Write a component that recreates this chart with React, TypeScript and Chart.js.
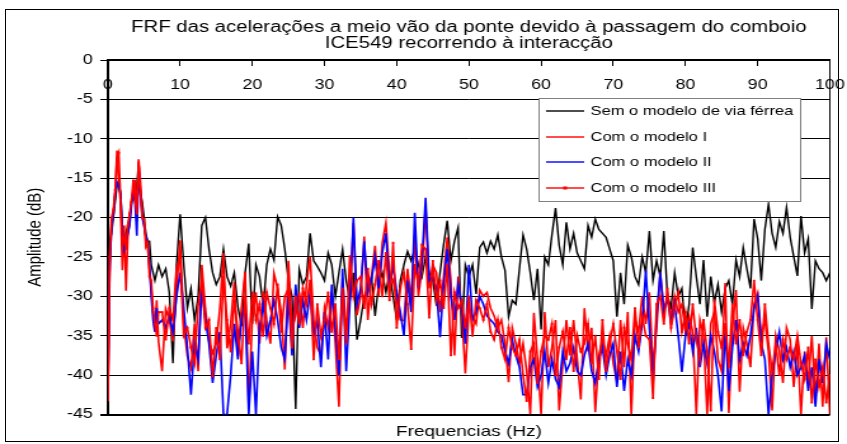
import { useEffect, useRef } from 'react';
import { Chart, registerables } from 'chart.js';

Chart.register(...registerables);

// ---- data ----
const FREQ = [
  0, 0.25, 0.5, 0.75, 1, 1.25, 1.5, 1.75, 2, 2.25,
  2.5, 2.75, 3, 3.25, 3.5, 3.75, 4, 4.25, 4.5, 4.75,
  5, 5.25, 5.5, 5.75, 6, 6.25, 6.5, 6.75, 7,
  7.5, 8, 8.5, 9, 9.5, 10, 10.5, 11, 11.5, 12,
  12.5, 13, 13.5, 14, 14.5, 15, 15.5, 16, 16.5, 17,
  17.5, 18, 18.5, 19, 19.5, 20, 20.5, 21, 21.5, 22,
  22.5, 23, 23.5, 24, 24.5, 25, 25.5, 26, 26.5, 27,
  27.5, 28, 28.5, 29, 29.5, 30, 30.5, 31, 31.5, 32,
  32.5, 33, 33.5, 34, 34.5, 35, 35.5, 36, 36.5, 37,
  37.5, 38, 38.5, 39, 39.5, 40, 40.5, 41, 41.5, 42,
  42.5, 43, 43.5, 44, 44.5, 45, 45.5, 46, 46.5, 47,
  47.5, 48, 48.5, 49, 49.5, 50, 50.5, 51, 51.5, 52,
  52.5, 53, 53.5, 54, 54.5, 55, 55.5, 56, 56.5, 57,
  57.5, 58, 58.5, 59, 59.5, 60, 60.5, 61, 61.5, 62,
  62.5, 63, 63.5, 64, 64.5, 65, 65.5, 66, 66.5, 67,
  67.5, 68, 68.5, 69, 69.5, 70, 70.5, 71, 71.5, 72,
  72.5, 73, 73.5, 74, 74.5, 75, 75.5, 76, 76.5, 77,
  77.5, 78, 78.5, 79, 79.5, 80, 80.5, 81, 81.5, 82,
  82.5, 83, 83.5, 84, 84.5, 85, 85.5, 86, 86.5, 87,
  87.5, 88, 88.5, 89, 89.5, 90, 90.5, 91, 91.5, 92,
  92.5, 93, 93.5, 94, 94.5, 95, 95.5, 96, 96.5, 97,
  97.5, 98, 98.5, 99, 99.5, 100,
];

const SEM_VIA = [
  -25, -23, -22, -20, -18, -16, -15.5, -17, -21, -23,
  -22, -21, -20, -18, -17, -17, -16, -13, -17, -18,
  -20, -22, -23, -23, -26, -27, -28, -27, -26,
  -27.5, -26.5, -29.5, -38.5, -26, -19.6, -26, -31.5, -29, -33,
  -30, -21, -20, -24, -27, -28.5, -27.5, -24, -27.5, -28.7,
  -27, -31.3, -33.8, -27, -23.3, -33.5, -26, -27.5, -31.3, -26,
  -24, -25.4, -19.9, -21, -24, -28, -30, -44.3, -26.6, -28.5,
  -27.5, -22, -25.5, -26.2, -27, -28, -24.5, -26, -30, -27,
  -24, -28, -30.5, -27, -35.5, -33, -30, -29, -27.5, -32.5,
  -28.5, -27, -29.5, -27, -30, -33, -28, -26, -24.3, -25.5,
  -24, -26, -27.5, -25, -27, -28, -31.2, -27, -23.4, -20.4,
  -25.5, -23, -21.3, -35.3, -26, -27.5, -26, -29.7, -23.8, -23.1,
  -24.5, -23, -24, -22.2, -25, -26.7, -32.6, -30.5, -31, -26.5,
  -22.2, -24, -27, -30.5, -26.5, -34.2, -25, -26, -22.2, -18.8,
  -23.5, -26, -20.6, -24, -22, -24.5, -25.5, -26.5, -21, -22.5,
  -20.2, -21.5, -22, -22.5, -24, -25.5, -32.6, -27, -31, -23.5,
  -25, -27.5, -28.5, -25, -27, -21.7, -28, -25.5, -27.5, -21.7,
  -30, -31.4, -27, -30, -29, -34.7, -31, -23.8, -27.5, -31,
  -25.4, -32.6, -27.5, -30.8, -28.5, -32, -29, -28, -31, -25.4,
  -27.5, -23.8, -26.5, -29, -20.2, -22.7, -28, -21.5, -18.3, -22,
  -23.8, -20.5, -22, -18.7, -22.5, -25, -27.4, -19.8, -24.5, -22.7,
  -31.6, -25.5, -26.5, -27, -28, -27,
];

const MODELO_I = [
  -43, -27, -20.5, -19.5, -17, -11.5, -15.5, -18, -26.7, -21,
  -29.3, -22.5, -20.5, -17.8, -16.5, -15.2, -20.5, -12.6, -15.5, -19.5,
  -21, -22.5, -23.5, -26.5, -29, -32, -34.4, -30.5, -35.7,
  -39.5, -31.6, -33, -35.7, -29.3, -22.9, -33.6, -37.6, -39.1, -33.5,
  -39.5, -26, -31.6, -35.7, -37.2, -36, -31.6, -24.5, -36.6, -33.5,
  -28.2, -37.5, -31.5, -26.9, -44, -32.6, -29.5, -36, -29.4, -33,
  -36, -27.1, -29, -32, -39.3, -25.5, -34, -32.5, -29.5, -34,
  -28.5, -25, -33, -36.5, -37.5, -31.5, -34, -29.5, -36, -44,
  -27.7, -34.4, -29.9, -20.7, -32.4, -30, -22.4, -33, -27.5, -23.6,
  -30, -23.2, -20.7, -27, -28, -30.5, -33, -33.1, -26.5, -30.5,
  -22.4, -30, -26.5, -18.6, -29, -26, -27, -32, -27.5, -22.5,
  -28, -37.5, -27.5, -32, -39.8, -31.5, -32.5, -33.5, -29.2, -30,
  -29.5, -31.5, -32.5, -34, -33, -36, -40.9, -34, -36, -38.5,
  -36, -39.5, -45, -32.1, -38, -45, -32, -39, -36.5, -33,
  -44.5, -38.5, -33, -37.5, -33, -38, -43.1, -31.5, -37, -34,
  -44.7, -37.5, -35.5, -37.5, -35, -38.5, -40.9, -33, -39, -32,
  -45, -33, -34.5, -30, -33.5, -29.5, -39, -34, -27, -31.5,
  -30.5, -32.5, -30, -32, -31, -34.5, -32.5, -34.5, -45, -33,
  -35, -45, -33.5, -32, -38, -39.5, -28.3, -44.8, -34, -29.2,
  -42.1, -34, -36, -39, -31, -29.6, -35, -33, -37, -44.5,
  -35, -37, -41, -34, -35.5, -41.5, -36, -45, -37, -41,
  -35, -43, -36, -44, -35.2, -45,
];

const MODELO_II = [
  -43, -26, -21, -19.5, -17, -15.5, -16, -17, -22, -24,
  -23, -22, -21, -18.5, -17, -18, -22.3, -14, -17, -20,
  -21, -22.5, -23, -26, -30, -33, -34.5, -31.5, -33.5,
  -33, -34, -32.5, -34.5, -30, -27, -31.5, -36.5, -42.5, -36,
  -38, -29, -33, -36, -41, -37.5, -34.5, -45, -45, -40,
  -33.5, -38, -33, -31, -45, -37, -45, -34, -31, -35,
  -33, -30.5, -33, -36.5, -38, -30, -37.5, -28.5, -34, -30.5,
  -33, -29.5, -35, -33, -39, -32, -38, -28.5, -34, -40,
  -26.5, -39.5, -31, -20, -31, -29, -23, -29.5, -28, -25,
  -29, -24.5, -22, -29, -26, -29.5, -32, -35, -28, -32,
  -19.4, -29, -25.5, -17.5, -28, -27.5, -29, -35.2, -28.5, -24,
  -30, -33, -28.5, -31, -36, -26, -33, -32, -30, -31,
  -32.5, -33, -33.5, -34.5, -35, -37, -38.5, -35.5, -37.5, -39,
  -42.5, -42.5, -39, -38, -41.5, -40, -37, -41, -38, -40.5,
  -41.5, -37, -39.5, -38.5, -36.5, -39.5, -40, -37.5, -36, -39.5,
  -41, -38, -36.5, -40, -37.5, -36, -41.5, -37, -42, -38,
  -40, -35, -37, -33.5, -26.7, -34, -41, -32.5, -27, -32,
  -30, -33.5, -31, -35, -39.6, -35, -33.5, -37, -34, -39,
  -36, -38.5, -35, -37, -40, -44.6, -34, -42, -36.5, -33,
  -38, -36, -37.5, -35, -31.5, -30, -36, -38, -45, -40,
  -37, -34.5, -38, -36.5, -39, -37, -40, -39, -37.5, -42,
  -39, -44, -38, -41, -36, -38,
];

const MODELO_III = [
  -43.2, -25, -20, -19, -16.5, -12.5, -11.8, -17.8, -23.5, -22.5,
  -24, -21, -19.5, -18, -15.3, -17.8, -19.5, -13, -16.8, -20,
  -20.2, -23.7, -23.2, -27.5, -28, -31.5, -33.5, -35, -32,
  -32, -35.5, -31.5, -33, -26.3, -25.5, -35, -34, -36.5, -38.5,
  -31, -28, -34, -33, -40.2, -34, -38, -27.5, -33, -37,
  -30.5, -34.5, -38.5, -30, -36, -29.5, -33, -31, -35, -29.5,
  -31.5, -33.5, -28.5, -34.5, -30, -29, -36.5, -30, -33.5, -29,
  -31, -28, -38, -31, -35, -33, -29.5, -34.5, -31, -38,
  -29, -36, -24.9, -30, -28, -27.5, -31.5, -26.5, -31, -28.5,
  -25.5, -30, -24.5, -30.5, -23.2, -34, -29, -27, -31, -36.7,
  -26, -28.5, -23.5, -24, -32.7, -25.5, -30.5, -28, -31.5, -26,
  -37.5, -29.5, -31.5, -30.5, -34, -30, -35, -30.5, -31.5, -33,
  -31, -34.5, -35.5, -33, -36.5, -38, -34, -36.5, -37.5, -35.5,
  -40, -43.3, -37, -36, -41, -37, -35, -35.5, -33.5, -40,
  -36.5, -34.5, -38, -34, -39.5, -35, -37, -36, -33.5, -38.5,
  -35, -40.5, -33, -39.5, -36, -33.5, -37, -40.5, -34, -36,
  -38, -31.5, -36.5, -32.5, -35, -35.5, -42.9, -31, -30, -33.5,
  -29, -34, -31.5, -29.5, -34.5, -32, -36, -31, -35.5, -38,
  -33, -37, -44.5, -30.5, -34.5, -36.5, -33.5, -39, -31, -36,
  -33, -37.5, -34.5, -33, -28, -33, -37.5, -31, -36, -39.5,
  -36, -40, -35.5, -38, -36.5, -38, -35, -38.5, -40.5, -36.5,
  -43.5, -38, -41.5, -39, -43.5, -40,
];

const SERIES_LABELS = [
  'Sem o modelo de via férrea',
  'Com o modelo I',
  'Com o modelo II',
  'Com o modelo III',
];
const SERIES_COLORS = ['#000000', '#FF0000', '#0000FF', '#FF0000'];
const TITLE_LINES = [
  'FRF das acelerações a meio vão da ponte devido à passagem do comboio',
  'ICE549 recorrendo à interacção',
];
const X_TITLE = 'Frequencias (Hz)';
const Y_TITLE = 'Amplitude (dB)';
const X_MIN = 0;
const X_MAX = 100;
const X_STEP = 10;
const Y_MIN = -45;
const Y_MAX = 0;
const Y_STEP = 5;

// ---- layout ----
const FONT = "'Liberation Sans', Arial, Helvetica, sans-serif";
const BASE_W = 667;
const H = 444;
const STRETCH = 847 / BASE_W;

const boxLegend = {
  id: 'boxLegend',
  afterDatasetsDraw(chart: any) {
    const { ctx, chartArea } = chart;
    const w = chartArea.right - chartArea.left;
    const x0 = Math.round(chartArea.left + w * 0.5955) + 0.5;
    const y0 = 98.5;
    const bw = 206;
    const bh = 103;
    ctx.save();
    ctx.fillStyle = '#ffffff';
    ctx.fillRect(x0, y0, bw, bh);
    ctx.strokeStyle = '#808080';
    ctx.lineWidth = 1;
    ctx.strokeRect(x0, y0, bw, bh);
    ctx.font = `13px ${FONT}`;
    ctx.textBaseline = 'middle';
    ctx.textAlign = 'left';
    chart.data.datasets.forEach((ds: any, i: number) => {
      const y = Math.round(y0 + 12.5 + i * 25.7);
      ctx.strokeStyle = ds.borderColor;
      ctx.lineWidth = 1.4;
      ctx.beginPath();
      ctx.moveTo(x0 + 5.5, y);
      ctx.lineTo(x0 + 35.5, y);
      ctx.stroke();
      if (ds.pointRadius > 0) {
        ctx.fillStyle = ds.borderColor;
        ctx.fillRect(x0 + 19, y - 1.5, 3, 3);
      }
      ctx.fillStyle = '#000000';
      ctx.fillText(ds.label, x0 + 40.5, y);
    });
    ctx.restore();
  },
};

export default function App() {
  const canvasRef = useRef<HTMLCanvasElement | null>(null);

  useEffect(() => {
    if (!canvasRef.current) return;
    const series = [SEM_VIA, MODELO_I, MODELO_II, MODELO_III];
    const datasets = series.map((vals, i) => ({
      label: SERIES_LABELS[i],
      data: vals.map((v, k) => ({ x: FREQ[k], y: v })),
      borderColor: SERIES_COLORS[i],
      backgroundColor: SERIES_COLORS[i],
      borderWidth: i === 0 ? 1.4 : 1.6,
      pointRadius: i === 3 ? 1.3 : 0,
      pointBorderWidth: 0,
      pointStyle: 'rect' as const,
      pointBackgroundColor: SERIES_COLORS[i],
      tension: 0,
      fill: false,
      order: 4 - i,
    }));

    const chart = new Chart(canvasRef.current, {
      type: 'line',
      data: { datasets },
      plugins: [boxLegend],
      options: {
        responsive: false,
        animation: false,
        devicePixelRatio: 1,
        layout: { padding: { top: 9, bottom: 3, left: 4, right: 13.5 } },
        plugins: {
          legend: { display: false },
          tooltip: { enabled: false },
          title: {
            display: true,
            fullSize: false,
            text: TITLE_LINES,
            color: '#000',
            font: { family: FONT, size: 16, weight: 'normal', lineHeight: 16.8 / 16 },
            padding: { top: 9.8, bottom: 7.6 },
          },
        },
        scales: {
          x: {
            type: 'linear',
            position: 'top',
            min: X_MIN,
            max: X_MAX,
            afterFit: (s: any) => {
              s.height = 0;
              s.paddingLeft = 0;
              s.paddingRight = 0;
            },
            ticks: {
              stepSize: X_STEP,
              mirror: true,
              padding: 17,
              color: '#000',
              maxRotation: 0,
              autoSkip: false,
              font: { family: FONT, size: 14 },
            },
            grid: {
              display: true,
              drawOnChartArea: false,
              drawTicks: true,
              tickLength: -6,
              color: '#000',
            },
            border: { display: true, color: '#000', width: 2 },
          },
          x2: {
            type: 'linear',
            position: 'bottom',
            min: X_MIN,
            max: X_MAX,
            afterFit: (s: any) => {
              s.height = 26.5;
              s.paddingLeft = 0;
              s.paddingRight = 0;
            },
            ticks: { display: false },
            grid: { display: false },
            border: { display: false },
            title: {
              display: true,
              text: X_TITLE,
              color: '#000',
              font: { family: FONT, size: 15, lineHeight: 17 / 15 },
              padding: { top: 0, bottom: 0.5 },
            },
          },
          y: {
            type: 'linear',
            position: 'left',
            min: Y_MIN,
            max: Y_MAX,
            afterFit: (s: any) => { s.width = 81; },
            ticks: {
              stepSize: Y_STEP,
              padding: 6,
              color: '#000',
              font: { family: FONT, size: 14 },
            },
            grid: {
              color: '#000',
              lineWidth: (c: any) => (c.tick && c.tick.value === Y_MIN ? 2 : 1),
              drawTicks: true,
              tickLength: 6,
            },
            border: { display: true, color: '#000', width: 2 },
            title: {
              display: true,
              text: Y_TITLE,
              color: '#000',
              font: { family: FONT, size: 15, lineHeight: 17 / 15 },
              padding: { top: 15.1, bottom: 0 },
            },
          },
          y2: {
            type: 'linear',
            position: 'right',
            min: Y_MIN,
            max: Y_MAX,
            afterFit: (s: any) => { s.width = 0; },
            ticks: { display: false },
            grid: { display: false },
            border: { display: true, color: '#000', width: 1 },
          },
        },
      },
    });
    return () => chart.destroy();
  }, []);

  return (
    <div
      style={{
        position: 'fixed',
        left: 0,
        top: 0,
        width: 847,
        height: H,
        overflow: 'hidden',
        background: '#fff',
      }}
    >
      <div
        style={{
          position: 'absolute',
          left: 0,
          top: 0,
          width: BASE_W,
          height: H,
          transform: `scaleX(${STRETCH})`,
          transformOrigin: '0 0',
        }}
      >
        <canvas ref={canvasRef} width={BASE_W} height={H} style={{ display: 'block' }} />
      </div>
      <div
        style={{
          position: 'absolute',
          left: 5,
          top: 9,
          width: 832,
          height: 431,
          border: '1px solid #000',
          pointerEvents: 'none',
        }}
      />
    </div>
  );
}
